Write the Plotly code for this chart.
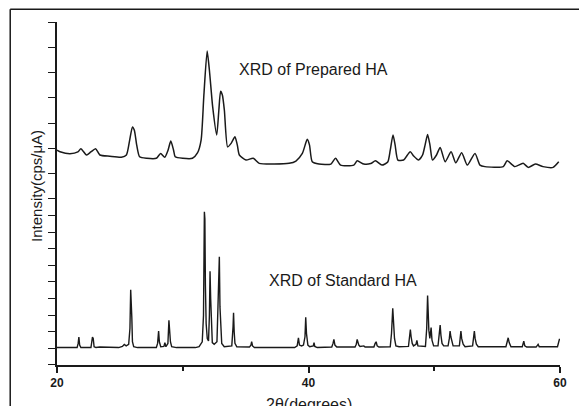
import plotly.graph_objects as go

# Prepared HA (top panel), 2theta vs intensity (a.u.)
prep_2theta = [20.0, 20.24, 21.03, 21.66, 21.90, 22.35, 22.69, 23.07, 23.41, 24.2, 25.12, 25.52, 25.78, 26.0, 26.15,
               26.34, 26.57, 27.13, 27.9, 28.24, 28.57, 28.83, 29.05, 29.27, 29.4, 30.0, 30.77, 31.17, 31.46, 31.68,
               31.94, 32.12, 32.38, 32.70, 32.87, 33.01, 33.15, 33.31, 33.57, 33.86, 34.15, 34.34, 34.5, 35.03, 35.60,
               36.08, 38.46, 39.0, 39.51, 39.9, 40.08, 40.30, 40.83, 41.78, 42.15, 42.55, 43.6, 43.87, 44.4, 44.95,
               45.32, 45.84, 46.3, 46.5, 46.72, 46.89, 47.11, 47.56, 48.09, 48.36, 48.75, 49.07, 49.27, 49.47, 49.66,
               49.86, 50.18, 50.47, 50.87, 51.34, 51.71, 52.18, 52.63, 53.24, 53.64, 54.03, 55.49, 55.8, 56.41, 57.07,
               57.47, 58.04, 58.65, 59.45, 59.9]
prep_intensity = [193, 187, 179, 186, 199, 174, 186, 199, 174, 169, 165, 174, 233, 285, 272,
                  213, 167, 161, 161, 180, 165, 193, 229, 193, 167, 161, 161, 182, 233, 411,
                  585, 509, 364, 253, 351, 426, 411, 351, 206, 221, 246, 213, 174, 154, 161,
                  141, 141, 150, 180, 236, 213, 147, 138, 138, 161, 134, 134, 151, 138, 140,
                  151, 134, 146, 193, 253, 213, 154, 154, 187, 170, 154, 174, 213, 255, 213,
                  154, 174, 204, 147, 187, 143, 183, 134, 180, 134, 128, 128, 151, 128, 141,
                  125, 138, 128, 125, 147]

# Standard HA (bottom panel)
std_2theta = [20.0, 21.6, 21.68, 21.74, 21.8, 21.9, 22.7, 22.76, 22.82, 22.88, 22.95, 23.1, 23.4, 24.9, 25.2,
              25.35, 25.5, 25.7, 25.8, 25.86, 25.9, 25.95, 26.0, 26.1, 26.4, 27.9, 28.0, 28.08, 28.14, 28.25,
              28.5, 28.58, 28.66, 28.82, 28.9, 28.96, 29.02, 29.12, 29.5, 31.0, 31.3, 31.55, 31.65, 31.72, 31.76,
              31.8, 31.86, 31.95, 32.05, 32.12, 32.17, 32.22, 32.28, 32.35, 32.5, 32.72, 32.8, 32.87, 32.91, 32.96,
              33.02, 33.1, 33.3, 33.9, 34.0, 34.04, 34.09, 34.15, 34.3, 35.3, 35.42, 35.48, 35.55, 35.7, 38.9,
              39.1, 39.2, 39.28, 39.45, 39.6, 39.72, 39.78, 39.84, 39.95, 40.1, 40.38, 40.44, 40.5, 40.7, 41.85,
              41.95, 42.02, 42.1, 42.25, 43.7, 43.8, 43.87, 43.93, 44.0, 44.1, 44.4, 44.5, 45.2, 45.3, 45.38,
              45.46, 45.6, 46.5, 46.6, 46.7, 46.76, 46.84, 46.95, 47.2, 47.95, 48.04, 48.1, 48.16, 48.25, 48.35,
              48.55, 48.62, 48.7, 49.3, 49.4, 49.47, 49.52, 49.57, 49.65, 49.75, 49.82, 49.95, 50.3, 50.4, 50.47,
              50.53, 50.62, 50.75, 51.1, 51.2, 51.26, 51.32, 51.4, 51.5, 52.0, 52.06, 52.12, 52.18, 52.3, 52.45,
              53.05, 53.12, 53.19, 53.25, 53.35, 53.5, 55.7, 55.8, 55.88, 55.96, 56.1, 57.0, 57.07, 57.12, 57.2,
              57.35, 58.1, 58.2, 58.26, 58.35, 59.8, 59.95, 60.0]
std_intensity = [5, 5, 30, 68, 20, 5, 5, 40, 68, 60, 10, 5, 8, 5, 12,
                 24, 15, 25, 120, 353, 187, 187, 40, 10, 5, 5, 30, 104, 40, 10,
                 12, 34, 10, 30, 169, 100, 40, 10, 5, 5, 10, 40, 200, 823, 780,
                 385, 150, 60, 45, 200, 465, 300, 120, 35, 25, 40, 250, 415, 552, 250,
                 90, 30, 10, 15, 130, 215, 100, 30, 10, 8, 20, 40, 15, 5, 5,
                 15, 64, 20, 15, 20, 70, 188, 90, 20, 10, 15, 34, 12, 5, 8,
                 30, 54, 20, 8, 8, 25, 54, 35, 20, 12, 15, 8, 8, 30, 40,
                 15, 8, 10, 90, 241, 180, 60, 15, 10, 12, 80, 114, 70, 30, 15,
                 25, 48, 15, 12, 120, 319, 160, 110, 60, 125, 50, 15, 15, 70, 140,
                 80, 30, 15, 15, 60, 104, 70, 40, 15, 15, 60, 104, 60, 25, 10,
                 15, 60, 104, 60, 25, 10, 10, 40, 64, 35, 10, 10, 30, 44, 15,
                 8, 8, 20, 24, 10, 10, 54, 54]

x_tickvals = [20, 40, 60]
x_ticktext = ["20", "40", "60"]

FONT = "Liberation Sans, Arial, sans-serif"
INK = "#1a1a1a"

fig = go.Figure()
fig.add_trace(go.Scatter(x=prep_2theta, y=prep_intensity, xaxis="x", yaxis="y2", mode="lines",
                         line=dict(color=INK, width=1.5, shape="spline", smoothing=0.6), showlegend=False))
fig.add_trace(go.Scatter(x=std_2theta, y=std_intensity, xaxis="x", yaxis="y", mode="lines",
                         line=dict(color=INK, width=1.4), showlegend=False))

split = 0.484
fig.update_layout(
    width=579, height=406,
    margin=dict(l=57, r=17, t=22, b=41),
    paper_bgcolor="white", plot_bgcolor="white",
    font=dict(family=FONT, color=INK),
    xaxis=dict(range=[20, 60], showline=True, linecolor=INK, linewidth=1.5,
               ticks="outside", ticklen=6, tickwidth=1.5, tickcolor=INK,
               tickvals=x_tickvals, ticktext=["<b>%s</b>" % t for t in x_ticktext],
               tickfont=dict(size=12, family=FONT, color=INK),
               minor=dict(tickvals=[30, 50], ticks="outside", ticklen=4, tickwidth=1.5, tickcolor=INK),
               showgrid=False, zeroline=False, anchor="y"),
    yaxis=dict(domain=[0, split], range=[-100, 900], dtick=100, tick0=0,
               showline=True, linecolor=INK, linewidth=1.5,
               ticks="outside", ticklen=7, tickwidth=1.2, tickcolor=INK,
               showticklabels=False, showgrid=False, zeroline=False, anchor="x"),
    yaxis2=dict(domain=[split, 1], range=[0, 700], dtick=100, tick0=0,
                showline=True, linecolor=INK, linewidth=1.5,
                ticks="outside", ticklen=7, tickwidth=1.2, tickcolor=INK,
                showticklabels=False, showgrid=False, zeroline=False, anchor="x"),
)

fig.add_annotation(x=40.4, y=513, xref="x", yref="y2", text="XRD of Prepared HA",
                   showarrow=False, font=dict(size=16, family=FONT, color=INK))
fig.add_annotation(x=42.72, y=409, xref="x", yref="y", text="XRD of Standard HA",
                   showarrow=False, font=dict(size=16, family=FONT, color=INK))
fig.add_annotation(x=-0.0614, y=0.521, xref="paper", yref="paper", text="Intensity(cps/μA)",
                   textangle=-90, showarrow=False, font=dict(size=15, family=FONT, color=INK))
fig.add_annotation(x=0.5, y=-0.086, xref="paper", yref="paper", text="2θ(degrees)",
                   yanchor="top", showarrow=False, font=dict(size=16, family=FONT, color=INK))

# outer frame lines (top and left) of the original figure
fig.add_shape(type="line", xref="paper", yref="paper", x0=-0.093, x1=1.1, y0=1.037, y1=1.037,
              line=dict(color=INK, width=1.5))
fig.add_shape(type="line", xref="paper", yref="paper", x0=-0.093, x1=-0.093, y0=-0.2, y1=1.037,
              line=dict(color=INK, width=1.5))

fig.write_html("out.html", config={"displayModeBar": False},
               post_script="document.body.style.margin='0';document.body.style.overflow='hidden';")
